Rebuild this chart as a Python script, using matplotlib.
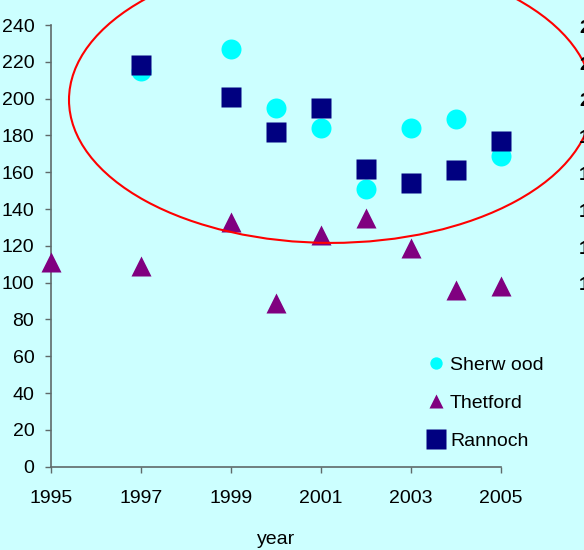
import matplotlib
matplotlib.use("Agg")
import matplotlib.pyplot as plt
from matplotlib.lines import Line2D
from matplotlib.patches import Ellipse
from matplotlib.transforms import blended_transform_factory

plt.rcParams['font.family'] = ['Liberation Sans', 'DejaVu Sans']

# Survey counts per site
years = [1995, 1997, 1999, 2000, 2001, 2002, 2003, 2004, 2005]
sherwood_years = [1997, 1999, 2000, 2001, 2002, 2003, 2004, 2005]
sherwood = [215, 227, 195, 184, 151, 184, 189, 169]
thetford_years = [1995, 1997, 1999, 2000, 2001, 2002, 2003, 2004, 2005]
thetford = [111, 109, 133, 89, 126, 135, 119, 96, 98]
rannoch_years = [1997, 1999, 2000, 2001, 2002, 2003, 2004, 2005]
rannoch = [218, 201, 182, 195, 162, 154, 161, 177]

x_ticks = [1995, 1997, 1999, 2001, 2003, 2005]
y_ticks = list(range(0, 241, 20))
side_ticks = [240, 220, 200, 180, 160, 140, 120, 100]

bg = '#CCFFFF'
axis_col = '#5f6a6a'
fs = 14

fig = plt.figure(figsize=(5.84, 5.50), dpi=100, facecolor=bg)
ax = fig.add_axes([51 / 584, 83.3 / 550, 450 / 584, 441.7 / 550])
ax.set_facecolor(bg)

ax.plot(sherwood_years, sherwood, ls='', marker='o', ms=14.4, color='#00FFFF',
        mec='none', clip_on=False, zorder=3, label='Sherw ood')
ax.plot(thetford_years, thetford, ls='', marker='^', ms=14.6, color='#800080',
        mec='none', clip_on=False, zorder=3, label='Thetford')
ax.plot(rannoch_years, rannoch, ls='', marker='s', ms=13.8, color='#000080',
        mec='none', clip_on=False, zorder=4, label='Rannoch')

ell = Ellipse((2001.22, 199.3), 11.64, 155.4, fill=False, ec='#FF0000',
              lw=1.5, clip_on=False, zorder=5)
ax.add_patch(ell)

ax.set_xlim(1995, 2005)
ax.set_ylim(0, 240)
ax.set_xticks(x_ticks)
ax.set_yticks(y_ticks)
ax.tick_params(axis='both', colors=axis_col, labelcolor='black', labelsize=fs,
               length=4, width=1)
ax.tick_params(axis='y', pad=8)
ax.tick_params(axis='x', pad=13)
for s in ['top', 'right']:
    ax.spines[s].set_visible(False)
for s in ['left', 'bottom']:
    ax.spines[s].set_color(axis_col)
    ax.spines[s].set_linewidth(1.2)

fig.text(276 / 584, 1 - 539 / 550, 'year', ha='center', va='center', fontsize=fs)

# neighbouring panel's axis labels at the right edge
tr = blended_transform_factory(fig.transFigure, ax.transData)
for v in side_ticks:
    fig.text(579 / 584, v - 1.8, str(v), transform=tr, ha='left', va='center',
             fontsize=fs, fontweight='bold')

handles = [
    Line2D([], [], ls='', marker='o', ms=8.9, color='#00FFFF', mec='none'),
    Line2D([], [], ls='', marker='^', ms=9.5, color='#800080', mec='none'),
    Line2D([], [], ls='', marker='s', ms=13.8, color='#000080', mec='none'),
]
labels = ['Sherw ood', 'Thetford', 'Rannoch']
fig.legend(handles, labels, loc='upper left',
           bbox_to_anchor=(428.5 / 584, 1 - 356 / 550),
           bbox_transform=fig.transFigure, frameon=False, fontsize=fs,
           borderpad=0, borderaxespad=0, handlelength=0.8, handletextpad=0.3,
           labelspacing=1.06)

fig.savefig('out.png', dpi=100, facecolor=bg)
